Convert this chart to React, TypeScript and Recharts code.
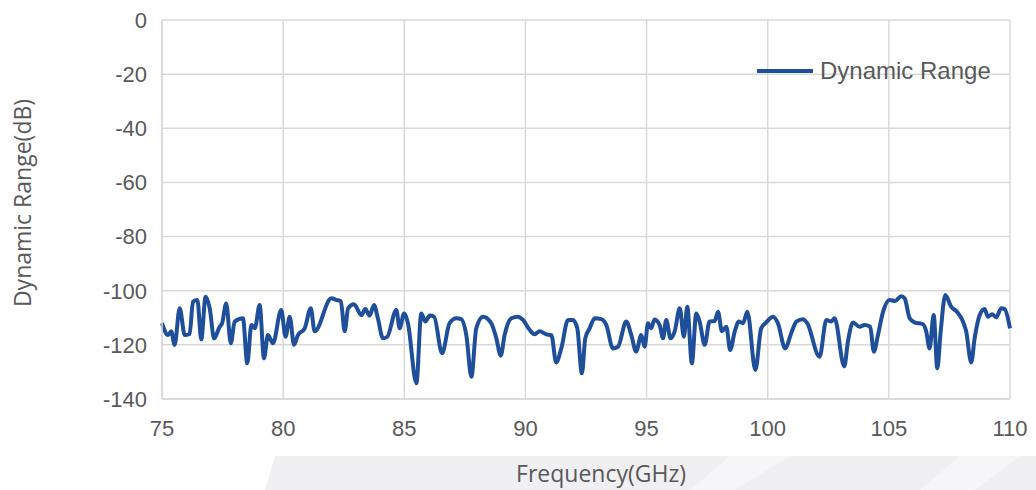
import React from 'react';
import { LineChart, Line, XAxis, YAxis, CartesianGrid, Legend } from 'recharts';

// frequency points (GHz)
const frequencies = [
  75.0, 75.25, 75.38, 75.52, 75.73, 75.94, 76.14, 76.28, 76.46, 76.62, 76.8, 76.97,
  77.15, 77.38, 77.48, 77.65, 77.84, 78.0, 78.34, 78.52, 78.69, 78.83, 79.03, 79.21,
  79.37, 79.58, 79.92, 80.1, 80.27, 80.45, 80.61, 80.89, 81.14, 81.3, 81.99, 82.19,
  82.38, 82.54, 82.68, 82.92, 83.23, 83.39, 83.57, 83.75, 83.91, 84.12, 84.3, 84.67,
  84.81, 84.99, 85.15, 85.5, 85.7, 85.87, 86.05, 86.23, 86.56, 86.87, 87.15, 87.35,
  87.56, 87.77, 87.97, 88.25, 88.59, 88.8, 88.98, 89.14, 89.42, 89.69, 89.9, 90.18,
  90.38, 90.59, 90.86, 91.07, 91.27, 91.48, 91.76, 91.96, 92.14, 92.33, 92.47, 92.65,
  92.86, 93.13, 93.34, 93.61, 93.82, 94.16, 94.37, 94.57, 94.78, 94.92, 95.06, 95.19,
  95.33, 95.54, 95.68, 95.81, 95.99, 96.16, 96.37, 96.54, 96.68, 96.87, 97.05, 97.19,
  97.4, 97.6, 97.81, 97.95, 98.11, 98.29, 98.45, 98.64, 98.81, 98.98, 99.16, 99.49,
  99.73, 99.94, 100.22, 100.42, 100.72, 100.97, 101.18, 101.45, 101.63, 102.14, 102.42, 102.62,
  102.76, 103.16, 103.31, 103.52, 103.79, 104.0, 104.23, 104.38, 104.55, 104.76, 105.03, 105.26,
  105.51, 105.65, 105.86, 106.06, 106.41, 106.54, 106.68, 106.85, 107.0, 107.14, 107.33, 107.57,
  107.81, 108.06, 108.19, 108.4, 108.54, 108.75, 108.95, 109.09, 109.26, 109.43, 109.64, 109.78,
  110.0,
];

// dynamic range (dB)
const dynamicRange = [
  -112, -116.4, -115, -120, -106.5, -116.4, -116, -104, -103.4, -118, -102.2, -106.5,
  -117.6, -113.3, -112, -104.7, -119.4, -111.4, -110.2, -126.8, -112.7, -113.9, -105.3, -125,
  -116.4, -119.4, -107.1, -117, -109.6, -120, -116.4, -113.9, -106.5, -115, -102.8, -103.4,
  -103.8, -115, -106.5, -105, -109, -106.8, -109.2, -105.3, -110.2, -117.6, -117, -107.1,
  -113.9, -108.4, -112, -134.2, -108.4, -111.4, -109.2, -109.6, -123.1, -112, -110.2, -110.5,
  -116.4, -131.8, -113.9, -109.6, -112, -117.6, -124, -116.4, -110.2, -109.6, -110.8, -114.5,
  -116.1, -115, -116.1, -116.4, -126.5, -121.3, -110.8, -110.8, -113.9, -130.5, -117.6, -113.9,
  -110.2, -110.5, -112.7, -121.3, -120.7, -111.4, -116.4, -122.5, -116.4, -120.7, -112, -113.9,
  -110.6, -112.7, -117.6, -110.8, -117.6, -115, -106.5, -117, -105.9, -126.8, -108.4, -111.4,
  -120, -111.4, -111.2, -107.8, -115, -113.3, -121.9, -115, -111.4, -112, -107.8, -129.3,
  -113.9, -111.7, -109.6, -112, -121.3, -115.7, -111.4, -110.5, -112, -124.4, -110.8, -111.4,
  -110.2, -128, -118.8, -111.7, -113.3, -112.7, -113.3, -122.5, -116.4, -107.8, -103.4, -103.8,
  -102, -102.8, -110.2, -111.7, -112.4, -115, -121.3, -109, -128.7, -115, -101.6, -105.9,
  -107.8, -111.4, -115, -126.5, -117.6, -109, -106.8, -109.6, -108.7, -109.8, -106.5, -106.8,
  -113.9,
];

const xTicks = [75, 80, 85, 90, 95, 100, 105, 110];
const yTicks = [-140, -120, -100, -80, -60, -40, -20, 0];

const data = frequencies.map((freq, i) => ({ freq, value: dynamicRange[i] }));

const LINE_COLOR = '#1F4E9A';
const TEXT_COLOR = '#595959';
const GRID_COLOR = '#d9d9d9';
const tickStyle = { fill: TEXT_COLOR, fontSize: 22, fontFamily: '"Liberation Sans", Arial, sans-serif' };

const LegendBox = () => (
  <div style={{ display: 'flex', alignItems: 'center', fontFamily: '"Liberation Sans", Arial, sans-serif', fontSize: 24, color: TEXT_COLOR }}>
    <div style={{ width: 56, height: 4, background: LINE_COLOR, marginRight: 7 }} />
    <span>Dynamic Range</span>
  </div>
);

export default function App() {
  return (
    <div style={{ position: 'absolute', left: 0, top: 0, width: 1036, height: 490, background: '#fff', overflow: 'hidden' }}>
      {/* faint backdrop band behind the x label */}
      <svg width={1036} height={490} style={{ position: 'absolute', left: 0, top: 0 }}>
        <polygon points="275,456 1036,456 1036,490 265,490" fill="#f0f0f3" />
        <polygon points="730,456 790,456 735,490 690,490" fill="#f6f6f8" />
        <polygon points="960,456 1020,456 975,490 920,490" fill="#f6f6f8" />
      </svg>
      <div style={{ position: 'absolute', left: 0, top: 0 }}>
        <LineChart width={1036} height={490} data={data} margin={{ top: 20, right: 26, left: 0, bottom: 0 }}>
          <CartesianGrid stroke={GRID_COLOR} strokeWidth={1.5} />
          <XAxis
            dataKey="freq"
            type="number"
            domain={[75, 110]}
            ticks={xTicks}
            height={91}
            tickSize={0}
            tickMargin={21}
            tickLine={false}
            axisLine={{ stroke: GRID_COLOR, strokeWidth: 1.5 }}
            tick={tickStyle}
            label={{
              content: () => (
                <text x={601} y={482} textAnchor="middle" fill={TEXT_COLOR} fontSize={23} fontFamily='"Open Sans", sans-serif'>
                  Frequency(GHz)
                </text>
              ),
            }}
          />
          <YAxis
            type="number"
            domain={[-140, 0]}
            ticks={yTicks}
            width={162}
            tickSize={0}
            tickMargin={15}
            tickLine={false}
            axisLine={{ stroke: GRID_COLOR, strokeWidth: 1.5 }}
            tick={tickStyle}
            label={{
              content: () => (
                <text
                  x={22}
                  y={203}
                  transform="rotate(-90 22 203)"
                  textAnchor="middle"
                  dominantBaseline="central"
                  fill={TEXT_COLOR}
                  fontSize={23}
                  fontFamily='"Open Sans", sans-serif'
                >
                  Dynamic Range(dB)
                </text>
              ),
            }}
          />
          <Legend
            layout="horizontal"
            verticalAlign="middle"
            align="center"
            content={() => <LegendBox />}
            wrapperStyle={{ position: 'absolute', top: 57, left: 757, width: 'auto' }}
          />
          <Line
            type="monotone"
            dataKey="value"
            name="Dynamic Range"
            stroke={LINE_COLOR}
            strokeWidth={4}
            dot={false}
            isAnimationActive={false}
          />
        </LineChart>
      </div>
    </div>
  );
}
